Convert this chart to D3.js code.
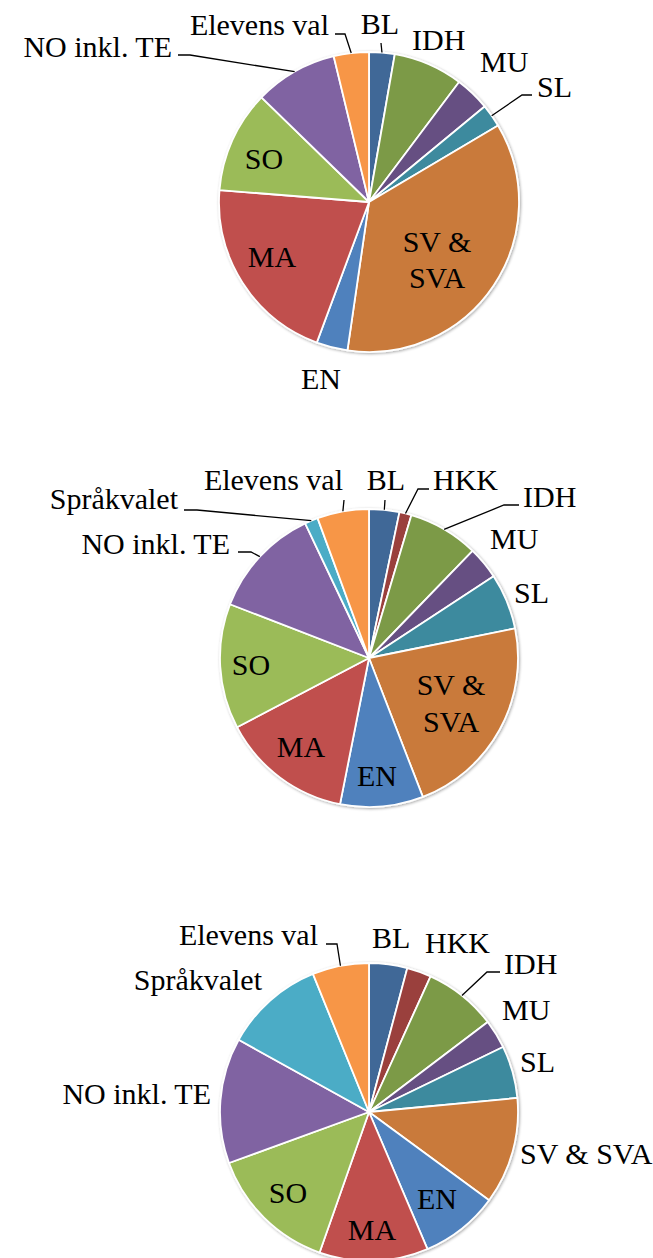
<!DOCTYPE html>
<html>
<head>
<meta charset="utf-8">
<script src="https://cdn.jsdelivr.net/npm/d3@7"></script>
<style>
  html, body { margin: 0; padding: 0; background: #ffffff; }
  svg { display: block; }
</style>
</head>
<body>
<svg id="chart" width="653" height="1258"></svg>
<script>
// ---------- DATA ----------
const categories1 = ["BL", "IDH", "MU", "SL", "SV & SVA", "EN", "MA", "SO", "NO inkl. TE", "Elevens val"];
const values1     = [2.75, 7.5, 3.75, 2.47, 35.8, 3.36, 20.6, 11.0, 8.94, 3.78];

const categories2 = ["BL", "HKK", "IDH", "MU", "SL", "SV & SVA", "EN", "MA", "SO", "NO inkl. TE", "Språkvalet", "Elevens val"];
const values2     = [3.28, 1.31, 7.64, 3.53, 6.06, 22.3, 9.0, 14.2, 13.56, 12.08, 1.44, 5.61];

const categories3 = ["BL", "HKK", "IDH", "MU", "SL", "SV & SVA", "EN", "MA", "SO", "NO inkl. TE", "Språkvalet", "Elevens val"];
const values3     = [4.14, 2.64, 7.89, 3.14, 5.69, 11.58, 8.5, 11.8, 14.06, 13.61, 10.81, 6.14];

// ---------- STYLE ----------
const FONT = "'Liberation Serif', 'DejaVu Serif', serif";
const colorDomain = ["EN", "MA", "SO", "NO inkl. TE", "Språkvalet", "Elevens val",
                     "BL", "HKK", "IDH", "MU", "SL", "SV & SVA"];
const colorRange  = ["#4f81bd", "#c0504d", "#9bbb59", "#8064a2", "#4bacc6", "#f79646",
                     "#3f6797", "#9a403e", "#7c9a47", "#665082", "#3c8a9e", "#c97a3a"];
const color = d3.scaleOrdinal().domain(colorDomain).range(colorRange);

// ---------- LAYOUT (label placements relative to pie centre) ----------
const layout1 = {
  cx: 369, cy: 202, r: 150,
  labels: {
    "Elevens val": { dx: -40, dy: -167, anchor: "end", leader: [[-34, -168], [-24, -168]] },
    "BL":          { dx: 11, dy: -168, anchor: "middle", leader: [[12, -159]] },
    "IDH":         { dx: 43, dy: -152, anchor: "start" },
    "MU":          { dx: 111, dy: -130, anchor: "start" },
    "SL":          { dx: 168, dy: -105, anchor: "start", leader: [[163, -107], [153, -107]] },
    "NO inkl. TE": { dx: -197, dy: -145, anchor: "end", leader: [[-191, -147], [-179, -147]] },
    "EN":          { dx: -48, dy: 187, anchor: "middle" },
    "SV & SVA":    { dx: 68, dy: 50, anchor: "middle", lines: ["SV &", "SVA"], lh: 36 },
    "MA":          { dx: -97, dy: 65, anchor: "middle" },
    "SO":          { dx: -105, dy: -33, anchor: "middle" }
  }
};
const layout2 = {
  cx: 369, cy: 658, r: 149,
  labels: {
    "Elevens val": { dx: -26, dy: -168, anchor: "end", leader: [[-25, -158]] },
    "BL":          { dx: 17, dy: -168, anchor: "middle", leader: [[16, -158]] },
    "HKK":         { dx: 64, dy: -168, anchor: "start", leader: [[60, -169], [49, -169]] },
    "IDH":         { dx: 154, dy: -151, anchor: "start", leader: [[150, -153], [135, -153]] },
    "MU":          { dx: 121, dy: -109, anchor: "start" },
    "SL":          { dx: 145, dy: -55, anchor: "start" },
    "Språkvalet":  { dx: -191, dy: -149, anchor: "end", leader: [[-185, -148], [-172, -148]] },
    "NO inkl. TE": { dx: -139, dy: -104, anchor: "end", leader: [[-131, -106], [-118, -106]] },
    "SV & SVA":    { dx: 82, dy: 37, anchor: "middle", lines: ["SV &", "SVA"], lh: 37 },
    "SO":          { dx: -118, dy: 17, anchor: "middle" },
    "MA":          { dx: -68, dy: 99, anchor: "middle" },
    "EN":          { dx: 8, dy: 128, anchor: "middle" }
  }
};
const layout3 = {
  cx: 369, cy: 1112, r: 149,
  labels: {
    "Elevens val": { dx: -51, dy: -167, anchor: "end", leader: [[-43, -168], [-32, -168]] },
    "BL":          { dx: 3, dy: -164, anchor: "start" },
    "HKK":         { dx: 56, dy: -159, anchor: "start" },
    "IDH":         { dx: 135, dy: -138, anchor: "start", leader: [[131, -140], [118, -140]] },
    "MU":          { dx: 133, dy: -92, anchor: "start" },
    "SL":          { dx: 151, dy: -40, anchor: "start" },
    "SV & SVA":    { dx: 151, dy: 52, anchor: "start" },
    "Språkvalet":  { dx: -107, dy: -122, anchor: "end" },
    "NO inkl. TE": { dx: -158, dy: -8, anchor: "end" },
    "SO":          { dx: -81, dy: 91, anchor: "middle" },
    "MA":          { dx: 3, dy: 128, anchor: "middle" },
    "EN":          { dx: 68, dy: 97, anchor: "middle" }
  }
};

const svg = d3.select("#chart");
const defs = svg.append("defs");
const filt = defs.append("filter").attr("id", "shadow").attr("x", "-10%").attr("y", "-10%")
  .attr("width", "120%").attr("height", "120%");
filt.append("feGaussianBlur").attr("in", "SourceAlpha").attr("stdDeviation", 1.6);
filt.append("feOffset").attr("dx", 1.2).attr("dy", 1.2).attr("result", "b");
filt.append("feComponentTransfer").append("feFuncA").attr("type", "linear").attr("slope", 0.35);
const m = filt.append("feMerge");
m.append("feMergeNode");
m.append("feMergeNode").attr("in", "SourceGraphic");

function drawPie(cats, vals, lay) {
  const data = cats.map((c, i) => ({ cat: c, value: vals[i] }));
  const pie = d3.pie().value(d => d.value).sort(null);
  const arcs = pie(data);
  const arc = d3.arc().innerRadius(0).outerRadius(lay.r);
  const g = svg.append("g").attr("transform", `translate(${lay.cx},${lay.cy})`);

  const slices = g.append("g").attr("filter", "url(#shadow)");
  slices.selectAll("path").data(arcs).join("path")
    .attr("d", arc)
    .attr("fill", d => color(d.data.cat))
    .attr("stroke", "#ffffff")
    .attr("stroke-width", 1.8)
    .attr("stroke-linejoin", "round");

  const labelG = g.append("g");
  arcs.forEach(a => {
    const L = lay.labels[a.data.cat];
    if (!L) return;
    if (L.leader) {
      const mid = (a.startAngle + a.endAngle) / 2;
      const edge = [Math.sin(mid) * lay.r, -Math.cos(mid) * lay.r];
      const pts = L.leader.concat([edge]);
      labelG.append("path")
        .attr("d", d3.line()(pts))
        .attr("fill", "none")
        .attr("stroke", "#000")
        .attr("stroke-width", 1.3);
    }
    const lines = L.lines || [a.data.cat];
    const lh = L.lh || 0;
    lines.forEach((t, i) => {
      labelG.append("text")
        .attr("x", L.dx)
        .attr("y", L.dy + i * lh)
        .attr("text-anchor", L.anchor)
        .attr("font-family", FONT)
        .attr("font-size", 30)
        .attr("fill", "#000")
        .style("font-family", FONT)
        .text(t);
    });
  });
}

drawPie(categories1, values1, layout1);
drawPie(categories2, values2, layout2);
drawPie(categories3, values3, layout3);
</script>
</body>
</html>
